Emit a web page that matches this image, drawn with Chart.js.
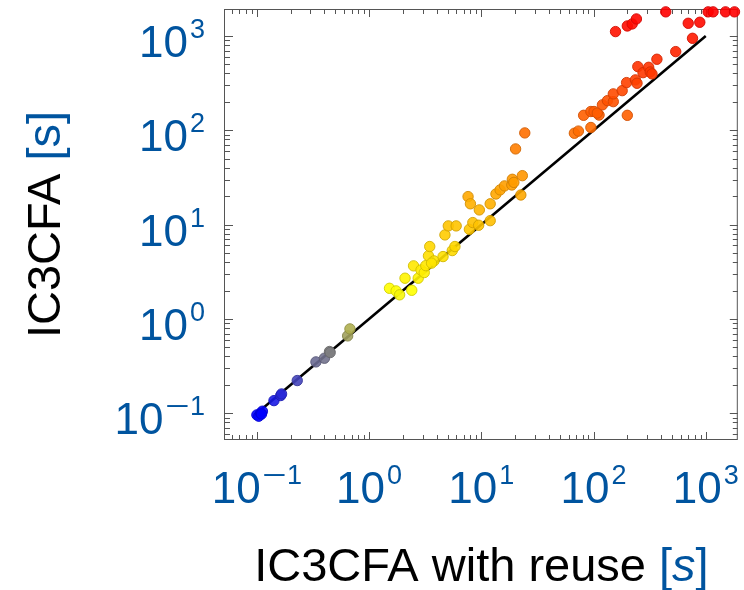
<!DOCTYPE html>
<html>
<head>
<meta charset="utf-8">
<script src="https://cdn.jsdelivr.net/npm/chart.js@4.4.1/dist/chart.umd.min.js"></script>
<style>
html, body { margin: 0; padding: 0; background: #fff; }
#wrap { width: 744px; height: 590px; }
</style>
</head>
<body>
<div id="wrap"><canvas id="chart"></canvas></div>
<script>
// run times in seconds
const reuseTimes = [
    0.100, 0.104, 0.108, 0.112, 0.110, 0.142, 0.163, 0.166, 0.229, 0.336,
    0.400, 0.444, 0.450, 0.644, 0.675,
    1.52, 1.74, 1.87, 2.09, 2.40, 2.49, 2.74, 2.90, 3.10, 3.20,
    3.38, 3.47, 3.79, 3.60, 4.56, 4.74, 5.08, 5.51, 5.82, 5.97,
    7.62, 8.0, 7.83, 8.4, 9.47, 9.6, 12.0, 12.0, 13.5, 14.7,
    16.1, 18.7, 18.9, 19.5, 23.2, 22.5, 20.2, 24.4,
    67.5, 73.3, 81.6, 94.7, 94.7, 101, 112, 108, 120, 133,
    150, 150, 180, 200, 197, 236, 244, 248, 276, 310,
    320, 332, 367, 540, 762,
    157, 200, 221, 241, 440, 698, 885, 1050, 1162, 1500, 1803
];
const plainTimes = [
    0.096, 0.093, 0.100, 0.105, 0.098, 0.136, 0.154, 0.160, 0.222, 0.350,
    0.383, 0.451, 0.440, 0.660, 0.783,
    2.11, 1.98, 1.80, 2.70, 2.01, 3.65, 2.70, 3.30, 3.10, 3.67,
    4.66, 5.85, 4.12, 3.90, 4.58, 7.77, 9.68, 5.30, 5.85, 9.68,
    19.8, 16.6, 8.9, 10.5, 9.84, 14.3, 16.6, 11.0, 21.1, 23.3,
    25.7, 26.3, 30.2, 28.0, 33.0, 20.6, 63.4, 93.7,
    93, 98, 144, 158, 107, 158, 145, 152, 186, 206,
    201, 243, 263, 144, 320, 342, 315, 473, 408, 465,
    415, 396, 566, 682, 944,
    1112, 1276, 1340, 1514, 1800, 1362, 1396, 1800, 1800, 1800, 1800
];
const diagX = [0.1, 1000];
const diagY = [0.1, 1000];
const decadeTicks = [0.1, 1, 10, 100, 1000];
const decadeExponents = ['\u22121', '0', '1', '2', '3'];
const axisMin = 0.052;
const axisMax = 1930;

const BLUE = '#00549F';
const FRAME = '#555555';

// blue -> yellow -> red colour map on log10 of the y value
function metaColor(v, alpha, dark) {
    const l = Math.log10(v);
    let r, g, b;
    if (l <= 0.3) {
        const t = Math.max(0, (l + 1) / 1.3);
        r = 255 * t; g = 255 * t; b = 255 * (1 - t);
    } else {
        const t = Math.min(1, (l - 0.3) / 2.96);
        r = 255; g = 255 * (1 - t); b = 0;
    }
    const k = dark ? 0.82 : 1;
    return `rgba(${Math.round(r * k)}, ${Math.round(g * k)}, ${Math.round(b * k)}, ${alpha})`;
}

function minorTicks() {
    const out = [];
    for (let e = -2; e <= 3; e++) {
        for (let m = 2; m <= 9; m++) {
            const v = m * Math.pow(10, e);
            if (v > axisMin && v < axisMax) out.push(v);
        }
    }
    return out;
}

function drawPower(ctx, exp, x, baseline, align) {
    const baseFont = '44px "Liberation Sans", Arial, sans-serif';
    const expFont = '27px "Liberation Sans", Arial, sans-serif';
    ctx.font = baseFont;
    const wBase = ctx.measureText('10').width;
    ctx.font = expFont;
    const neg = exp.charAt(0) === '\u2212';
    const digits = neg ? exp.slice(1) : exp;
    const wMinus = neg ? ctx.measureText('\u2212').width * 1.55 : 0;
    const wExp = wMinus + ctx.measureText(digits).width;
    const total = wBase + 2 + wExp;
    const left = align === 'center' ? x - total / 2 : x - total;
    ctx.textAlign = 'left';
    ctx.textBaseline = 'alphabetic';
    ctx.fillStyle = BLUE;
    ctx.font = baseFont;
    ctx.fillText('10', left, baseline);
    ctx.font = expFont;
    let ex = left + wBase + 2;
    if (neg) {
        ctx.save();
        ctx.translate(ex, baseline - 19);
        ctx.scale(1.55, 1);
        ctx.fillText('\u2212', 0, 0);
        ctx.restore();
        ex += wMinus;
    }
    ctx.fillText(digits, ex, baseline - 19);
}

const framePlugin = {
    id: 'framePlugin',
    beforeDatasetsDraw(chart) {
        const { ctx, chartArea: a, scales: { x, y } } = chart;
        ctx.save();
        ctx.strokeStyle = FRAME;
        ctx.lineWidth = 1;
        ctx.strokeRect(a.left - 0.5, a.top + 0.5, a.right - a.left, a.bottom - a.top - 1);
        const tick = (v, len) => {
            const px = Math.round(x.getPixelForValue(v)) + 0.5;
            const py = Math.round(y.getPixelForValue(v)) + 0.5;
            ctx.beginPath();
            ctx.moveTo(px, a.bottom); ctx.lineTo(px, a.bottom - len);
            ctx.moveTo(px, a.top); ctx.lineTo(px, a.top + len);
            ctx.moveTo(a.left, py); ctx.lineTo(a.left + len, py);
            ctx.moveTo(a.right, py); ctx.lineTo(a.right - len, py);
            ctx.stroke();
        };
        minorTicks().forEach(v => tick(v, 5));
        decadeTicks.forEach(v => tick(v, 8));
        ctx.restore();
    },
    afterDraw(chart) {
        const { ctx, chartArea: a, scales: { x, y } } = chart;
        ctx.save();
        decadeTicks.forEach((v, i) => {
            drawPower(ctx, decadeExponents[i], x.getPixelForValue(v), 503, 'center');
            drawPower(ctx, decadeExponents[i], 205, y.getPixelForValue(v) + 21, 'right');
        });

        // x axis title
        const titleFont = '47px "Liberation Sans", Arial, sans-serif';
        const italicFont = 'italic 47px "Liberation Sans", Arial, sans-serif';
        const xParts = [
            ['IC3CFA with reuse ', '#000', titleFont],
            ['[', BLUE, titleFont],
            ['s', BLUE, italicFont],
            [']', BLUE, titleFont]
        ];
        let widths = xParts.map(p => { ctx.font = p[2]; return ctx.measureText(p[0]).width; });
        let total = widths.reduce((s, w) => s + w, 0);
        let cx = (a.left + a.right) / 2 - total / 2;
        ctx.textAlign = 'left';
        ctx.textBaseline = 'alphabetic';
        xParts.forEach((p, i) => {
            ctx.font = p[2];
            ctx.fillStyle = p[1];
            ctx.fillText(p[0], cx, 581);
            cx += widths[i];
        });

        // y axis title
        const yParts = [
            ['IC3CFA ', '#000', titleFont],
            ['[s]', BLUE, titleFont]
        ];
        widths = yParts.map(p => { ctx.font = p[2]; return ctx.measureText(p[0]).width; });
        total = widths.reduce((s, w) => s + w, 0);
        ctx.translate(60, (a.top + a.bottom) / 2);
        ctx.rotate(-Math.PI / 2);
        let cy = -total / 2;
        yParts.forEach((p, i) => {
            ctx.font = p[2];
            ctx.fillStyle = p[1];
            ctx.fillText(p[0], cy, 0);
            cy += widths[i];
        });
        ctx.restore();
    }
};

const points = reuseTimes.map((v, i) => ({ x: v, y: plainTimes[i] }));
const diagonal = diagX.map((v, i) => ({ x: v, y: diagY[i] }));

new Chart(document.getElementById('chart'), {
    type: 'scatter',
    data: {
        datasets: [
            {
                label: 'runs',
                data: points,
                order: 0,
                pointRadius: 5.2,
                pointHoverRadius: 5.2,
                borderWidth: 1,
                backgroundColor: points.map(p => metaColor(p.y, 0.9, false)),
                borderColor: points.map(p => metaColor(p.y, 0.9, true)),
                clip: false
            },
            {
                label: 'y = x',
                type: 'line',
                data: diagonal,
                order: 1,
                borderColor: '#000',
                borderWidth: 2.6,
                pointRadius: 0,
                fill: false
            }
        ]
    },
    options: {
        responsive: true,
        maintainAspectRatio: false,
        animation: false,
        events: [],
        layout: { padding: { top: 9, right: 2, left: 0, bottom: 0 } },
        plugins: {
            legend: { display: false },
            tooltip: { enabled: false }
        },
        scales: {
            x: {
                type: 'logarithmic',
                min: axisMin,
                max: axisMax,
                grid: { display: false },
                border: { display: false },
                ticks: { display: false },
                afterFit(s) { s.height = 150; }
            },
            y: {
                type: 'logarithmic',
                min: axisMin,
                max: axisMax,
                grid: { display: false },
                border: { display: false },
                ticks: { display: false },
                afterFit(s) { s.width = 225; }
            }
        }
    },
    plugins: [framePlugin]
});
</script>
</body>
</html>
